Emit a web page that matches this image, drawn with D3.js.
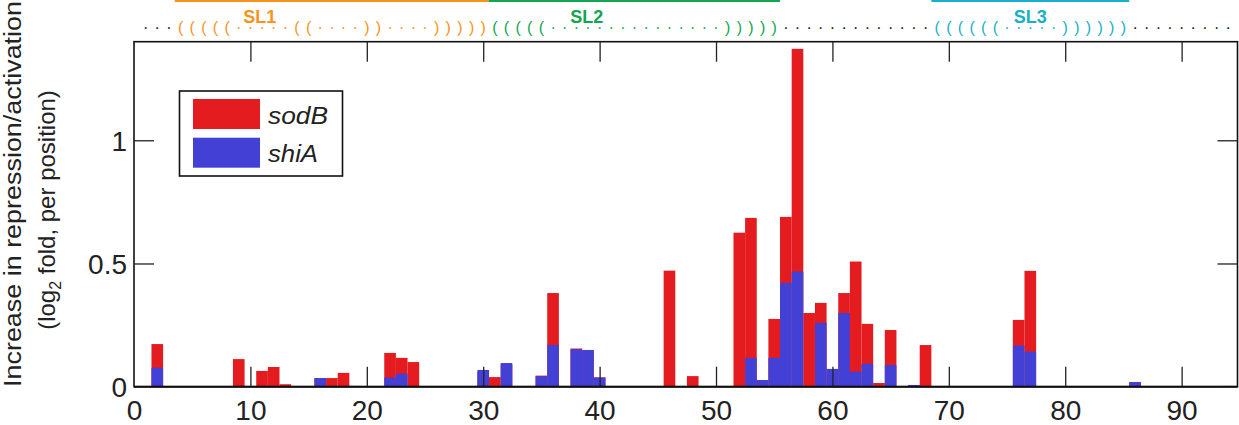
<!DOCTYPE html>
<html>
<head>
<meta charset="utf-8">
<script src="https://d3js.org/d3.v7.min.js"></script>
<style>
  body { margin: 0; background: #fff; overflow: hidden; }
  svg { display: block; }
  text { font-family: "Liberation Sans", Arial, Helvetica, sans-serif; }
</style>
</head>
<body>
<div id="chart"></div>
<script>
const positions = [2, 9, 11, 12, 13, 16, 17, 18, 19, 22, 23, 24, 30, 31, 32, 35, 36, 38, 39, 40,
                   46, 48, 52, 53, 54, 55, 56, 57, 58, 59, 60, 61, 62, 63, 64, 65, 67, 68, 76, 77, 86, 94];
const sodB = [0.173, 0.112, 0.064, 0.080, 0.010, 0.035, 0.035, 0.056, 0.003, 0.137, 0.117, 0.100, 0.060, 0.039, 0.090, 0.045, 0.380, 0.155, 0.148, 0.038,
              0.471, 0.043, 0.625, 0.685, 0.027, 0.275, 0.689, 1.371, 0.299, 0.340, 0.072, 0.380, 0.508, 0.255, 0.015, 0.230, 0.007, 0.169, 0.271, 0.470, 0.019, 0.003];
const shiA = [0.077, 0, 0, 0, 0, 0.035, 0, 0, 0.003, 0.037, 0.053, 0, 0.068, 0, 0.096, 0.043, 0.169, 0.152, 0.149, 0.037,
              0, 0, 0, 0.117, 0.027, 0.117, 0.421, 0.467, 0, 0.259, 0.072, 0.299, 0.061, 0.093, 0, 0.088, 0.007, 0, 0.167, 0.142, 0.019, 0.003];

// secondary structure (dot-bracket), one char per position starting at 1
const structParts = ["...", "(((((", ".....", "((", "....", "))", "....", ")))))",
                     "(((((", "...............", ")))))", ".............",
                     "((((((", ".....", "))))))", "........."];
const stemNames = ["SL1", "SL2", "SL3"];
const stemStart = [4, 31, 69];
const stemEnd = [30, 55, 85];
const stemLabelPos = [10.8, 38.9, 77];

const xTicks = [0, 10, 20, 30, 40, 50, 60, 70, 80, 90];
const yTicks = [0, 0.5, 1];
const seriesNames = ["sodB", "shiA"];

const red = "#e41b1f", blue = "#4340d6";
const stemColors = ["#f7941d", "#12a650", "#19afc8"];

const W = 1239, H = 425;
const mLeft = 134, mRight = 1237.5, mTop = 41.7, mBottom = 386.7;

const svg = d3.select("#chart").append("svg")
  .attr("width", W).attr("height", H);

const x = d3.scaleLinear().domain([0, 94.8]).range([mLeft, mRight]);
const y = d3.scaleLinear().domain([0, 1.4]).range([mBottom, mTop]);

// bars: sodB behind, shiA in front, both from zero
const g = svg.append("g");
g.selectAll("rect.sod").data(positions).enter().append("rect")
  .attr("class", "sod")
  .attr("x", d => x(d - 0.5))
  .attr("width", d => x(d + 0.5) - x(d - 0.5))
  .attr("y", (d, i) => y(sodB[i]))
  .attr("height", (d, i) => y(0) - y(sodB[i]))
  .attr("fill", red);
g.selectAll("rect.shi").data(positions).enter().append("rect")
  .attr("class", "shi")
  .attr("x", d => x(d - 0.5))
  .attr("width", d => x(d + 0.5) - x(d - 0.5))
  .attr("y", (d, i) => y(shiA[i]))
  .attr("height", (d, i) => y(0) - y(shiA[i]))
  .attr("fill", blue);

// frame + inward ticks on all four sides
const tickLen = 20;
svg.append("rect")
  .attr("x", mLeft).attr("y", mTop)
  .attr("width", mRight - mLeft).attr("height", mBottom - mTop)
  .attr("fill", "none").attr("stroke", "#111").attr("stroke-width", 1.6);

const xa = svg.append("g").attr("transform", `translate(0,${mBottom})`)
  .call(d3.axisBottom(x).tickValues(xTicks).tickSize(-tickLen));
const xt = svg.append("g").attr("transform", `translate(0,${mTop})`)
  .call(d3.axisTop(x).tickValues(xTicks).tickSize(-tickLen).tickFormat(""));
const ya = svg.append("g").attr("transform", `translate(${mLeft},0)`)
  .call(d3.axisLeft(y).tickValues(yTicks).tickSize(-tickLen).tickFormat(d3.format("")));
const yr = svg.append("g").attr("transform", `translate(${mRight},0)`)
  .call(d3.axisRight(y).tickValues(yTicks).tickSize(-tickLen).tickFormat(""));

[xa, xt, ya, yr].forEach(a => {
  a.select(".domain").remove();
  a.selectAll(".tick line").attr("stroke", "#222").attr("stroke-width", 1.3);
  a.selectAll(".tick text").attr("font-size", 28).attr("fill", "#222")
    .attr("font-family", "Liberation Sans, Arial, sans-serif");
});
// no tick stubs on the corners
[xa, xt, ya, yr].forEach(a => a.selectAll(".tick").filter(d => d === 0).select("line").remove());
xa.selectAll(".tick text").attr("y", 13.5).attr("dy", "0.71em");
ya.selectAll(".tick text").attr("x", -7).attr("dy", "0.36em");

// thicker baseline
svg.append("line").attr("x1", mLeft).attr("x2", mRight).attr("y1", mBottom).attr("y2", mBottom)
  .attr("stroke", "#111").attr("stroke-width", 2);

// y axis title
svg.append("text")
  .attr("transform", "translate(21,194) rotate(-90)")
  .attr("text-anchor", "middle").attr("font-size", 23).attr("fill", "#222")
  .attr("textLength", 386).attr("lengthAdjust", "spacingAndGlyphs")
  .text("Increase in repression/activation");
const yt2 = svg.append("text")
  .attr("transform", "translate(55,210) rotate(-90)")
  .attr("text-anchor", "middle").attr("font-size", 24).attr("fill", "#222");
yt2.append("tspan").text("(log");
yt2.append("tspan").attr("font-size", 16).attr("dy", 6).text("2");
yt2.append("tspan").attr("dy", -6).text(" fold, per position)");

// legend
const leg = svg.append("g");
leg.append("rect").attr("x", 179.5).attr("y", 91).attr("width", 163).attr("height", 85)
  .attr("fill", "#fff").attr("stroke", "#111").attr("stroke-width", 1.6);
const legLen = [60, 50];
[red, blue].forEach((c, i) => {
  leg.append("rect").attr("x", 193).attr("y", 99 + i * 38.7).attr("width", 67).attr("height", 30).attr("fill", c);
  leg.append("text").attr("x", 268).attr("y", 123.5 + i * 38.5)
    .attr("font-size", 23).attr("font-style", "italic").attr("fill", "#222")
    .attr("textLength", legLen[i]).attr("lengthAdjust", "spacingAndGlyphs")
    .text(seriesNames[i]);
});

// dot-bracket structure along the top
const chars = structParts.join("").split("");
function stemOf(p) {
  for (let k = 0; k < stemStart.length; k++) if (p >= stemStart[k] && p <= stemEnd[k]) return k;
  return -1;
}
svg.append("g").selectAll("text").data(chars).enter().append("text")
  .attr("x", (c, i) => x(i + 1))
  .attr("y", 32.5)
  .attr("text-anchor", "middle")
  .attr("font-size", 16)
  .attr("fill", (c, i) => { const k = stemOf(i + 1); return k < 0 ? "#111" : stemColors[k]; })
  .text(c => c === "." ? "\u00b7" : c);

stemNames.forEach((n, k) => {
  svg.append("line")
    .attr("x1", x(stemStart[k] - 0.5)).attr("x2", x(stemEnd[k] + 0.5))
    .attr("y1", 1).attr("y2", 1)
    .attr("stroke", stemColors[k]).attr("stroke-width", 2);
  svg.append("text")
    .attr("x", x(stemLabelPos[k])).attr("y", 23.3)
    .attr("text-anchor", "middle").attr("font-size", 18).attr("font-weight", "bold")
    .attr("fill", stemColors[k]).text(n);
});
</script>
</body>
</html>
